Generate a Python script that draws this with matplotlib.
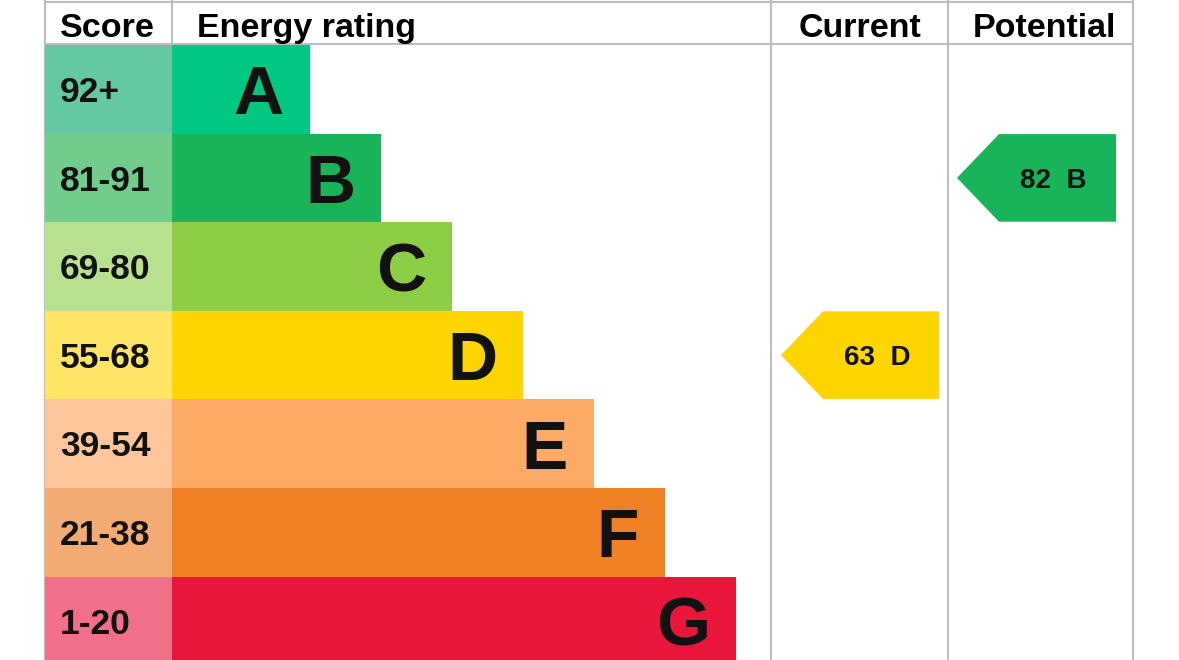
import matplotlib
matplotlib.use('Agg')
import matplotlib.pyplot as plt
from matplotlib.patches import Polygon

# data
bands = ['A', 'B', 'C', 'D', 'E', 'F', 'G']
score_ranges = ['92+', '81-91', '69-80', '55-68', '39-54', '21-38', '1-20']
band_min = [92, 81, 69, 55, 39, 21, 1]
bar_colors = ['#00c781', '#19b459', '#8dce46', '#ffd500', '#fcaa65', '#ef8023', '#e9153b']
score_colors = ['#64c8a3', '#72cd8d', '#b8e08e', '#ffe466', '#fdc69a', '#f3aa73', '#f07089']
headers = ['Score', 'Energy rating', 'Current', 'Potential']
current = 63
potential = 82

plt.rcParams['font.family'] = ['Liberation Sans', 'DejaVu Sans']

W, H = 1179, 660
fig = plt.figure(figsize=(W / 100, H / 100), dpi=100)
ax = fig.add_axes([0, 0, 1, 1])
ax.set_xlim(0, W)
ax.set_ylim(H, 0)
ax.axis('off')

# layout (pixels)
col_x = [45, 172, 771, 948, 1133]
top = 45
row_h = 88.6
bar_step = 71
bar_first = 138
grid = '#bdbdbd'

def cap(fs):
    # half cap height in pixels, used to centre capitals on a row
    return 0.716 * fs * 100 / 72 / 2

def band_index(v):
    for i, m in enumerate(band_min):
        if v >= m:
            return i
    return len(band_min) - 1

yc = [top + row_h * (i + 0.5) for i in range(len(bands))]
widths = [bar_first + bar_step * i for i in range(len(bands))]

# grid lines
for x in col_x:
    ax.plot([x, x], [0, H], color=grid, lw=1.5, zorder=0)
ax.plot([col_x[0], col_x[-1]], [1.5, 1.5], color=grid, lw=1.5, zorder=0)
ax.plot([col_x[0], col_x[-1]], [top - 1, top - 1], color=grid, lw=1.5, zorder=0)

# score cells and bars
ax.barh(yc, col_x[1] - col_x[0], left=col_x[0], height=row_h, color=score_colors,
        linewidth=0, antialiased=False, zorder=2)
ax.barh(yc, widths, left=col_x[1], height=row_h, color=bar_colors,
        linewidth=0, antialiased=False, zorder=2)

for i in range(len(bands)):
    ax.text(60, yc[i] + cap(25.5), score_ranges[i], fontsize=25.5, fontweight='bold',
            color='#111111', ha='left', va='baseline', zorder=3)
    ax.text(col_x[1] + widths[i] - 26, yc[i] + cap(50), bands[i], fontsize=50,
            fontweight='bold', color='#111111', ha='right', va='baseline', zorder=3)

# header
hb = 37
ax.text(60, hb, headers[0], fontsize=24.5, fontweight='bold', ha='left', va='baseline')
ax.text(197, hb, headers[1], fontsize=24.5, fontweight='bold', ha='left', va='baseline')
ax.text((col_x[2] + col_x[3]) / 2, hb, headers[2], fontsize=24.5, fontweight='bold',
        ha='center', va='baseline')
ax.text((col_x[3] + col_x[4]) / 2 + 4, hb, headers[3], fontsize=24.5, fontweight='bold',
        ha='center', va='baseline')

# current / potential arrows
def arrow(value, tip, right):
    i = band_index(value)
    y0 = top + row_h * i + 0.5
    y1 = top + row_h * (i + 1) - 0.5
    pts = [(tip, yc[i]), (tip + 42, y0), (right, y0), (right, y1), (tip + 42, y1)]
    ax.add_patch(Polygon(pts, closed=True, facecolor=bar_colors[i], edgecolor='none', zorder=2))
    ax.text((tip + 42 + right) / 2 - 4, yc[i] + cap(20), '%d  %s' % (value, bands[i]),
            fontsize=20, fontweight='bold', color='#111111', ha='center', va='baseline', zorder=3)

arrow(current, 781, 939)
arrow(potential, 957, 1116)

fig.savefig('out.png', dpi=100)
